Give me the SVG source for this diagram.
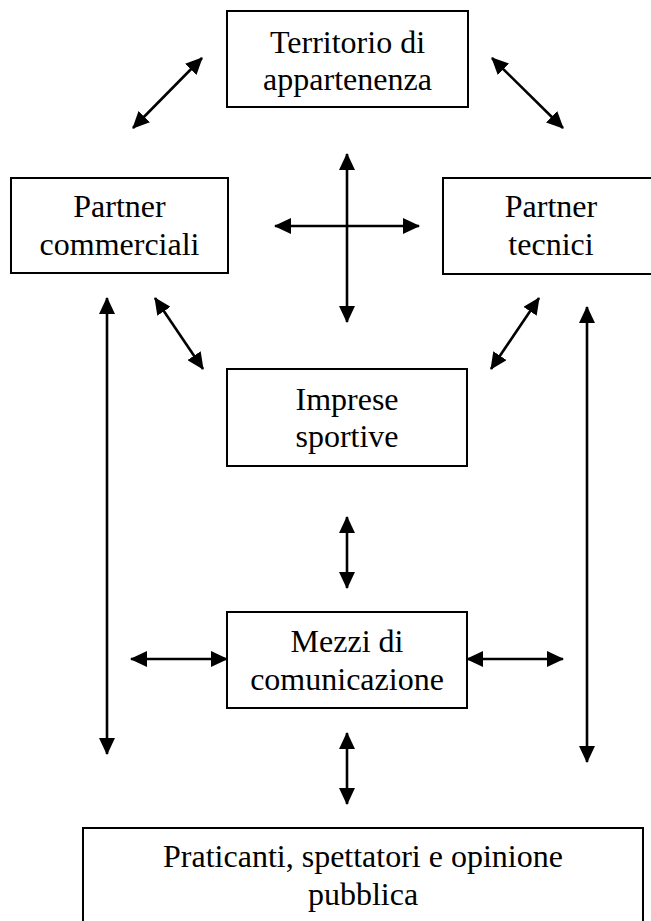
<svg xmlns="http://www.w3.org/2000/svg" width="651" height="921" viewBox="0 0 651 921">
  <style>
    .box { fill: #ffffff; stroke: #000000; stroke-width: 2; }
    .label { font-family: "Liberation Serif", "Times New Roman", serif; font-size: 32px; fill: #000000; text-anchor: middle; }
    .link { stroke: #000000; stroke-width: 2.6; fill: none; marker-start: url(#head); marker-end: url(#head); }
  </style>
  <defs>
    <!-- solid triangular arrowhead, fixed size in user units -->
    <marker id="head" viewBox="0 0 17 16" refX="16" refY="8" markerWidth="17" markerHeight="16" markerUnits="userSpaceOnUse" orient="auto-start-reverse">
      <path d="M0,0 L17,8 L0,16 Z" fill="#000000"/>
    </marker>
  </defs>

  <rect width="651" height="921" fill="#ffffff"/>

  <g id="connectors">
    <line class="link" x1="133" y1="128" x2="202" y2="58"/>
    <line class="link" x1="492" y1="58" x2="563" y2="128"/>
    <line class="link" x1="347" y1="154" x2="347" y2="322"/>
    <line class="link" x1="275" y1="226" x2="419" y2="226"/>
    <line class="link" x1="155" y1="298" x2="203" y2="369"/>
    <line class="link" x1="539" y1="298" x2="491" y2="369"/>
    <line class="link" x1="107" y1="298" x2="107" y2="754"/>
    <line class="link" x1="587" y1="307" x2="587" y2="762"/>
    <line class="link" x1="347" y1="517" x2="347" y2="588"/>
    <line class="link" x1="131" y1="659" x2="227" y2="659"/>
    <line class="link" x1="467" y1="659" x2="563" y2="659"/>
    <line class="link" x1="347" y1="733" x2="347" y2="804"/>
  </g>

  <g id="territorio">
    <rect class="box" x="227" y="11" width="241" height="96"/>
    <text class="label" x="347.5" y="53">Territorio di</text>
    <text class="label" x="347.5" y="90">appartenenza</text>
  </g>

  <g id="partner-commerciali">
    <rect class="box" x="11" y="178" width="217" height="95"/>
    <text class="label" x="119.5" y="217">Partner</text>
    <text class="label" x="119.5" y="255">commerciali</text>
  </g>

  <g id="partner-tecnici">
    <rect class="box" x="443" y="178" width="220" height="96"/>
    <text class="label" x="551" y="217">Partner</text>
    <text class="label" x="551" y="255">tecnici</text>
  </g>

  <g id="imprese-sportive">
    <rect class="box" x="227" y="369" width="240" height="97"/>
    <text class="label" x="347" y="410">Imprese</text>
    <text class="label" x="347" y="447">sportive</text>
  </g>

  <g id="mezzi-comunicazione">
    <rect class="box" x="227" y="612" width="240" height="96"/>
    <text class="label" x="347" y="652">Mezzi di</text>
    <text class="label" x="347" y="690">comunicazione</text>
  </g>

  <g id="praticanti">
    <rect class="box" x="83" y="828" width="560" height="110"/>
    <text class="label" x="363" y="867">Praticanti, spettatori e opinione</text>
    <text class="label" x="363" y="905">pubblica</text>
  </g>
</svg>
